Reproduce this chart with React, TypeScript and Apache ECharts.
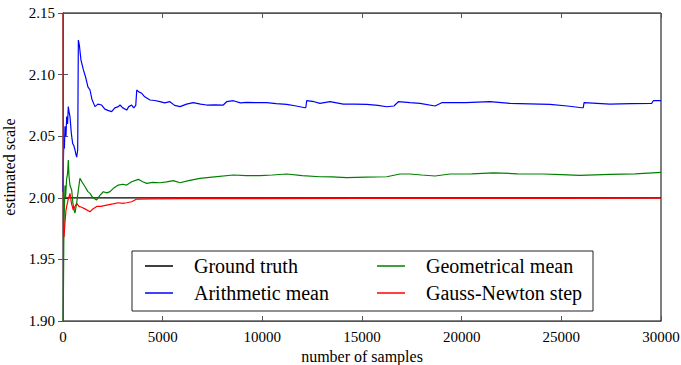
import React, { useEffect, useRef } from "react";
import * as echarts from "echarts";

const xTicks = [0, 5000, 10000, 15000, 20000, 25000, 30000];
const yTicks = [1.9, 1.95, 2.0, 2.05, 2.1, 2.15];

const groundTruth: [number, number][] = [
  [0, 2.0],
  [30000, 2.0],
];

const arithmeticMean: [number, number][] = [
  [0, 2.005], [20, 2.03], [40, 2.045], [70, 2.04], [100, 2.058], [150, 2.05], [185, 2.066], [230, 2.06],
  [266, 2.074], [300, 2.07], [350, 2.066], [420, 2.052], [485, 2.044], [550, 2.042], [600, 2.039],
  [650, 2.035], [687, 2.033], [737, 2.039], [770, 2.128], [820, 2.124], [900, 2.112], [1020, 2.104],
  [1150, 2.097], [1250, 2.09], [1355, 2.0875], [1450, 2.08], [1605, 2.074], [1750, 2.076], [1940, 2.0753],
  [2100, 2.072], [2250, 2.071], [2440, 2.07], [2600, 2.073], [2775, 2.074], [2860, 2.0753], [3000, 2.073],
  [3195, 2.0712], [3300, 2.074], [3445, 2.0753], [3550, 2.073], [3650, 2.075], [3700, 2.0875], [3800, 2.086],
  [3950, 2.0848], [4100, 2.082], [4365, 2.0794], [4600, 2.079], [4865, 2.078], [5100, 2.077], [5365, 2.078],
  [5600, 2.075], [5870, 2.074], [6200, 2.076], [6535, 2.0772], [6900, 2.076], [7205, 2.0753], [7600, 2.0755],
  [8040, 2.0753], [8210, 2.078], [8545, 2.0788], [8900, 2.077], [9210, 2.0775], [9700, 2.0772], [10215, 2.0772],
  [10700, 2.0765], [11220, 2.0758], [11700, 2.0745], [12140, 2.0731], [12180, 2.0731], [12225, 2.0788],
  [12600, 2.078], [12890, 2.0767], [13395, 2.078], [14065, 2.0761], [14600, 2.076], [15235, 2.0758],
  [15800, 2.075], [16240, 2.0739], [16600, 2.0745], [16825, 2.078], [17410, 2.0772], [17910, 2.0767],
  [18665, 2.0745], [19000, 2.0772], [20200, 2.0772], [21420, 2.078], [22425, 2.0767], [23400, 2.0763],
  [24430, 2.0758], [25300, 2.0745], [26020, 2.0731], [26100, 2.0731], [26140, 2.0772], [27440, 2.0761],
  [28500, 2.0765], [29530, 2.0767], [29615, 2.0788], [30000, 2.0788],
];

const geometricalMean: [number, number][] = [
  [0, 1.88], [40, 1.963], [60, 1.985], [100, 2.01], [130, 2.0], [180, 2.015], [230, 2.02], [266, 2.0306],
  [300, 2.018], [350, 2.01], [435, 2.0063], [500, 1.995], [560, 1.99], [600, 1.9876], [680, 1.995],
  [760, 2.005], [850, 2.0158], [950, 2.013], [1105, 2.009], [1250, 2.005], [1355, 2.0036], [1500, 2.0],
  [1690, 1.9982], [1850, 2.002], [2020, 2.0049], [2200, 2.004], [2360, 2.005], [2550, 2.008], [2775, 2.0103],
  [3000, 2.011], [3195, 2.0103], [3445, 2.013], [3780, 2.015], [4000, 2.013], [4200, 2.0117], [4500, 2.0125],
  [4865, 2.0122], [5200, 2.013], [5535, 2.0139], [5870, 2.0122], [6300, 2.014], [6870, 2.0158], [7600, 2.017],
  [8545, 2.0185], [9200, 2.018], [9880, 2.018], [10500, 2.0185], [11220, 2.0193], [12000, 2.018],
  [12890, 2.0171], [13500, 2.017], [14225, 2.0163], [15200, 2.0168], [16240, 2.0171], [16905, 2.0193],
  [17410, 2.0193], [18000, 2.0185], [18665, 2.0177], [19415, 2.0193], [20500, 2.0195], [21585, 2.0203],
  [22800, 2.0195], [24095, 2.0193], [25000, 2.0188], [25935, 2.0182], [27440, 2.019], [28700, 2.0195],
  [30000, 2.0206],
];

const gaussNewton: [number, number][] = [
  [0, 2.25], [25, 1.97], [50, 1.9683], [100, 1.98], [150, 1.99], [185, 1.993], [250, 1.998], [350, 2.0036],
  [430, 1.995], [517, 1.99], [600, 1.993], [687, 1.9955], [800, 1.993], [938, 1.9923], [1100, 1.991],
  [1355, 1.9887], [1500, 1.991], [1690, 1.993], [1900, 1.993], [2190, 1.9941], [2500, 1.995], [2775, 1.996],
  [3000, 1.9955], [3195, 1.996], [3445, 1.9968], [3700, 1.999], [4500, 1.9992], [6000, 1.9993],
  [10000, 1.9994], [15000, 1.9995], [20000, 1.9996], [25000, 1.9996], [30000, 1.9997],
];

const seriesNames = ["Ground truth", "Arithmetic mean", "Geometrical mean", "Gauss-Newton step"];
const seriesColors = ["#000000", "#0000ff", "#008000", "#ff0000"];

const FONT = "Liberation Serif";

function tick() {
  return { inside: true, length: 5 };
}

export default function App() {
  const ref = useRef<HTMLDivElement>(null);
  useEffect(() => {
    if (!ref.current) return;
    document.body.style.margin = "0";
    const chart = echarts.init(ref.current, undefined, { renderer: "svg" });
    const datasets = [groundTruth, arithmeticMean, geometricalMean, gaussNewton];
    const legendText = () => ({ fontFamily: FONT, fontSize: 20, lineHeight: 20, color: "#000", padding: [0, 0, 0, 16] });
    const sideAxis = (min: number, max: number, interval: number, position: string) => ({
      type: "value",
      min,
      max,
      interval,
      position,
      axisLine: { show: true },
      axisTick: tick(),
      splitLine: { show: false },
      axisLabel: { show: false },
    });
    chart.setOption({
      animation: false,
      textStyle: { fontFamily: FONT, fontSize: 15, color: "#000" },
      color: seriesColors,
      grid: {
        left: 63,
        right: 20,
        top: 13,
        bottom: 44,
        show: true,
        borderColor: "#000",
        borderWidth: 1,
        containLabel: false,
        outerBoundsMode: "none",
      },
      xAxis: [
        {
          type: "value",
          min: xTicks[0],
          max: xTicks[xTicks.length - 1],
          interval: 5000,
          axisLine: { show: true },
          axisTick: tick(),
          splitLine: { show: false },
          axisLabel: {
            color: "#000",
            fontSize: 15,
            fontFamily: FONT,
            formatter: (v: number) => String(v),
          },
          name: "number of samples",
          nameLocation: "middle",
          nameGap: 25,
          nameTextStyle: { fontSize: 16, color: "#000", fontFamily: FONT },
        },
        sideAxis(xTicks[0], xTicks[xTicks.length - 1], 5000, "top"),
      ],
      yAxis: [
        {
          type: "value",
          min: yTicks[0],
          max: yTicks[yTicks.length - 1],
          interval: 0.05,
          axisLine: { show: true },
          axisTick: tick(),
          splitLine: { show: false },
          axisLabel: {
            color: "#000",
            fontSize: 15,
            fontFamily: FONT,
            formatter: (v: number) => v.toFixed(2),
          },
          name: "estimated scale",
          nameLocation: "middle",
          nameGap: 40,
          nameTextStyle: { fontSize: 16, color: "#000", fontFamily: FONT },
        },
        sideAxis(yTicks[0], yTicks[yTicks.length - 1], 0.05, "right"),
      ],
      legend: [
        {
          orient: "vertical",
          icon: "rect",
          itemWidth: 28,
          itemHeight: 1.5,
          itemGap: 7,
          top: 256,
          left: 145,
          padding: 0,
          data: [seriesNames[0], seriesNames[1]],
          textStyle: legendText(),
        },
        {
          orient: "vertical",
          icon: "rect",
          itemWidth: 28,
          itemHeight: 1.5,
          itemGap: 7,
          top: 256,
          left: 377,
          padding: 0,
          data: [seriesNames[2], seriesNames[3]],
          textStyle: legendText(),
        },
      ],
      graphic: [
        {
          type: "rect",
          z: 3,
          shape: { x: 132, y: 251, width: 461, height: 60 },
          style: { fill: "#fff", stroke: "#222", lineWidth: 1 },
        },
      ],
      series: datasets.map((d, i) => ({
        name: seriesNames[i],
        type: "line",
        data: d,
        showSymbol: false,
        symbol: "none",
        z: 2 + i,
        lineStyle: { width: 1.2 },
      })),
    });
    return () => chart.dispose();
  }, []);
  return <div ref={ref} style={{ width: 681, height: 365 }} />;
}
